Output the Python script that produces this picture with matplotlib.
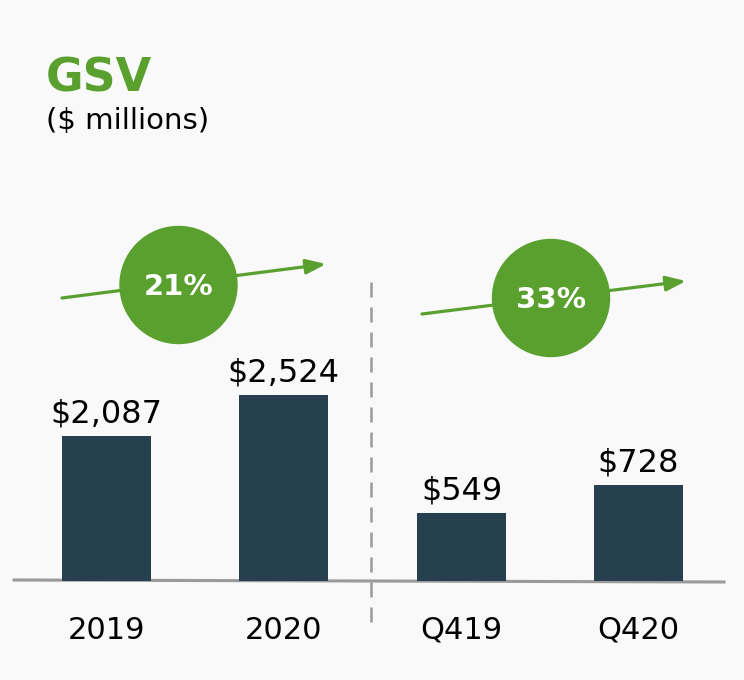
import matplotlib.pyplot as plt
from matplotlib.patches import Circle

# Data
year_labels = ['2019', '2020']
year_gsv = [2087, 2524]
qtr_labels = ['Q419', 'Q420']
qtr_gsv = [549, 728]

green = '#5aa02f'
bar_col = '#27404f'
bg = '#f9f9f9'
plt.rcParams['font.family'] = ['DejaVu Sans']

W, H = 744, 680
fig = plt.figure(figsize=(W / 100, H / 100), dpi=100, facecolor=bg)

# overlay axes in pixel coordinates for the decorations
over = fig.add_axes([0, 0, 1, 1])
over.set_xlim(0, W)
over.set_ylim(H, 0)
over.axis('off')
over.set_facecolor(bg)


def pix_rect(x0, x1, y_top, y_bot):
    return [x0 / W, 1 - y_bot / H, (x1 - x0) / W, (y_bot - y_top) / H]


base_y = 581
# per-panel y scales (left and right panels are scaled separately)
panels = [
    (year_labels, year_gsv, pix_rect(18, 372, 200, base_y), (542, 4600)),
    (qtr_labels, qtr_gsv, pix_rect(373, 727, 200, base_y), (114, 2544)),
]

for labels, vals, rect, ylim in panels:
    ax = fig.add_axes(rect)
    ax.patch.set_alpha(0)
    x = range(len(vals))
    ax.bar(x, vals, width=0.503, color=bar_col, bottom=ylim[0], zorder=3)
    # bars start at the axis floor so heights equal value - floor
    for b, v in zip(ax.patches, vals):
        b.set_height(v - ylim[0])
    for xi, v in zip(x, vals):
        ax.annotate('${:,}'.format(v), (xi, v), xytext=(0, 9.5),
                    textcoords='offset points', ha='center', va='baseline',
                    fontsize=23, color='black')
    ax.set_xlim(-0.5, 1.5)
    ax.set_ylim(*ylim)
    ax.set_xticks(list(x))
    ax.set_xticklabels(labels, fontsize=22)
    ax.tick_params(axis='x', length=0, pad=25)
    ax.set_yticks([])
    for s in ax.spines.values():
        s.set_visible(False)

# baseline and divider
over.plot([14, 724], [580, 582], color='#9a9a9a', lw=2.2, zorder=4)
over.plot([371, 371], [282, 622], color='#9a9a9a', lw=1.8,
          ls=(0, (6, 4)), zorder=1)

# growth arrows with bubbles
growth = ['{:.0f}%'.format((year_gsv[1] / year_gsv[0] - 1) * 100),
          '{:.0f}%'.format((qtr_gsv[1] / qtr_gsv[0] - 1) * 100)]
arrows = [((62, 298), (326, 264), (178.5, 285)),
          ((422, 314), (686, 281), (551, 298))]
for (p0, p1, c), g in zip(arrows, growth):
    over.annotate('', xy=p1, xytext=p0,
                  arrowprops=dict(arrowstyle='-|>,head_length=1.2,head_width=0.45',
                                  color=green, lw=2.3, shrinkA=0, shrinkB=0),
                  zorder=2)
    over.add_patch(Circle(c, 58.5, color=green, zorder=3))
    over.text(c[0], c[1] + 2, g, ha='center', va='center', color='white',
              fontsize=21, fontweight='bold', zorder=4)

# title
over.text(46, 92, 'GSV', color=green, fontsize=33, fontweight='bold',
          va='baseline', ha='left')
over.text(46, 129, '($ millions)', color='black', fontsize=21,
          va='baseline', ha='left')

fig.savefig('out.png', dpi=100, facecolor=bg)
